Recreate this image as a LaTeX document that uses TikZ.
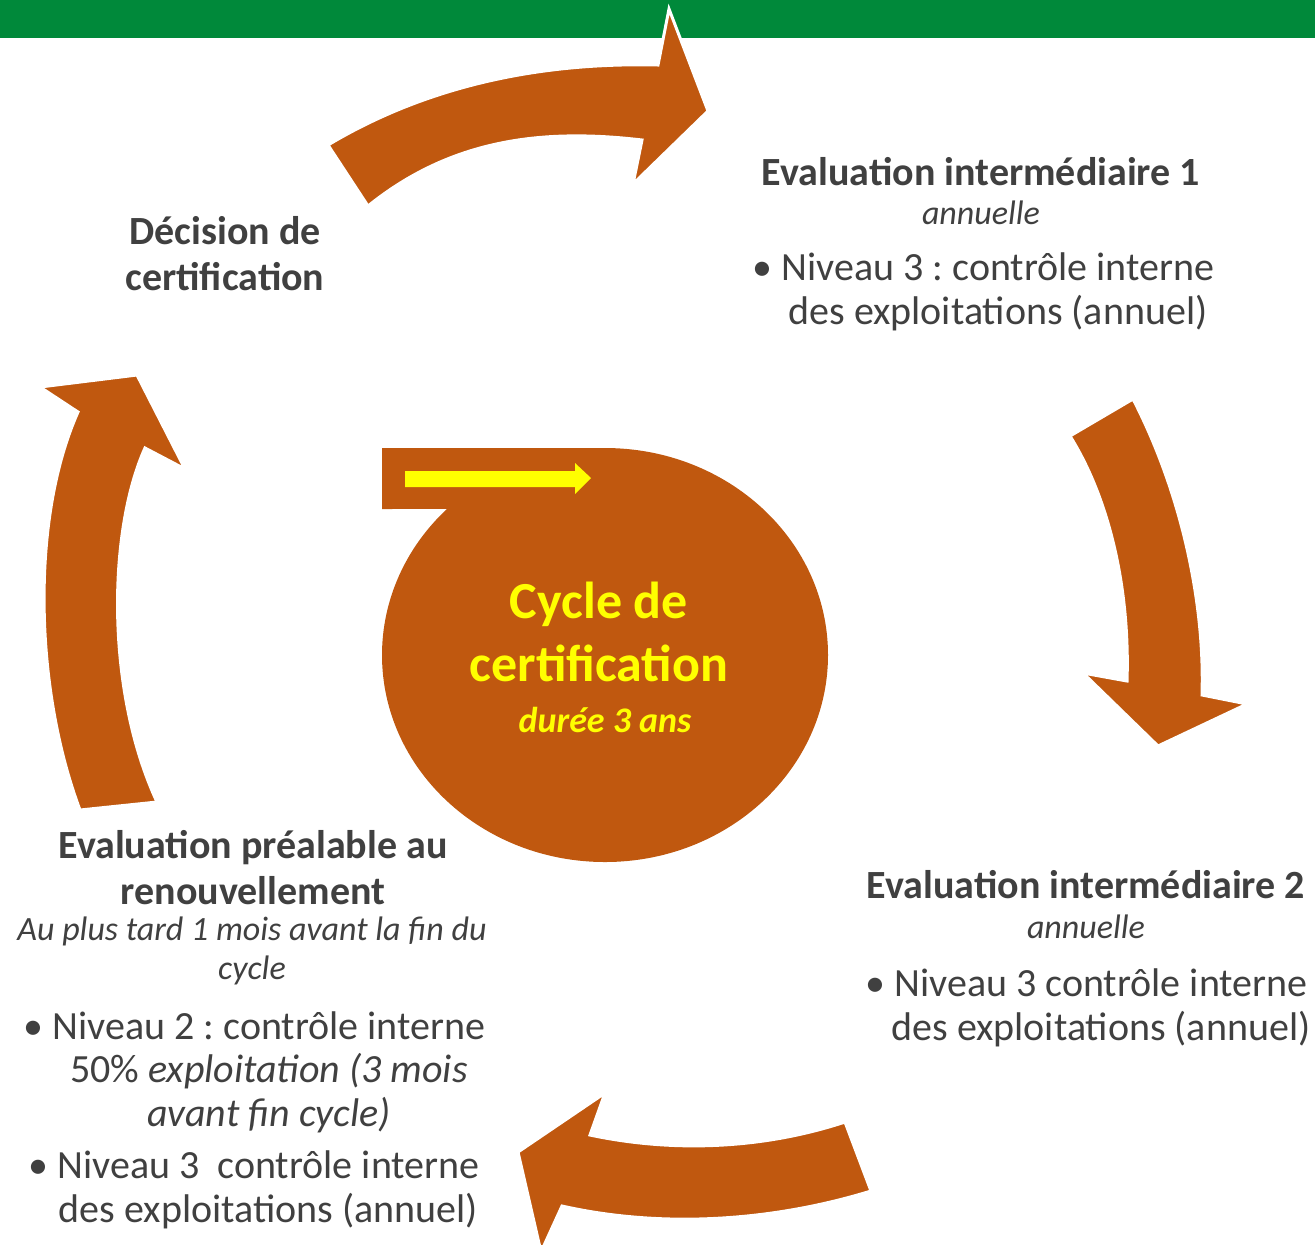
\documentclass[tikz,border=0pt]{standalone}
\usepackage{fontspec}
\setmainfont{Carlito}
\frenchspacing

\definecolor{rust}{HTML}{C0580F}
\definecolor{leaf}{HTML}{00893A}
\definecolor{ink}{HTML}{404040}
\definecolor{lemon}{HTML}{FFFF00}

\begin{document}
\begin{tikzpicture}[
    x=0.5pt, y=-0.5pt,
    every node/.style={inner sep=0pt, align=center, text=ink, anchor=base},
    head/.style={font=\fontsize{20}{23}\selectfont\bfseries},
    sub/.style={font=\fontsize{17}{19.5}\selectfont\itshape},
    item/.style={font=\fontsize{20}{21.75}\selectfont},
    centre/.style={text=lemon, font=\fontsize{26}{31.5}\selectfont\bfseries},
    bigarrow/.style={fill=rust, draw=white, line width=1.5pt, line join=miter}
]

    % Frame
    \useasboundingbox (0,0) rectangle (1315,1244);
    \clip (0,0) rectangle (1315,1244);
    \fill[white] (0,0) rectangle (1315,1244);
    \fill[leaf] (0,0) rectangle (1315,38);

    % Curved arrows
    \path[bigarrow] (328,145) .. controls (420,90) and (530,62) .. (658,65)
        -- (669,9) -- (708,111) -- (633,184) -- (642,140)
        .. controls (540,128) and (450,140) .. (368,206) -- cycle;
    \path[bigarrow] (1133,399) .. controls (1180,490) and (1205,600) .. (1202,695)
        -- (1247,704) -- (1158,746) -- (1083,673) -- (1127,681)
        .. controls (1130,590) and (1110,500) .. (1070,436) -- cycle;
    \path[bigarrow] (845,1122) .. controls (760,1150) and (670,1152) .. (590,1135)
        -- (605,1093) -- (518,1152) -- (541,1252) -- (562,1206)
        .. controls (660,1228) and (770,1222) .. (871,1191) -- cycle;
    \path[bigarrow] (80,810) .. controls (35,690) and (30,520) .. (78,412)
        -- (40,387) -- (137,375) -- (185,469) -- (145,448)
        .. controls (108,530) and (105,690) .. (157,802) -- cycle;

    % Centre (tape shape) with small yellow arrow
    \fill[rust] (382,448) -- (605,448)
        arc[start angle=-90, end angle=224.9, x radius=223, y radius=207]
        -- (382,509) -- cycle;
    \fill[lemon] (405,471) -- (575,471) -- (575,463) -- (591,478)
        -- (575,494) -- (575,487) -- (405,487) -- cycle;

    \node[centre] (cycle) at (599,681) {Cycle de\\certification};
    \node[centre, font=\fontsize{18}{20}\selectfont\bfseries\itshape] (duree) at (605,732) {durée 3 ans};

    % Steps (base = last line)
    \node[head] (decision) at (225,290) {Décision de\\certification};

    \node[head] (inter1) at (981,185) {Evaluation intermédiaire 1};
    \node[sub] (inter1freq) at (981,224) {annuelle};
    \node[item] (inter1lvl) at (983.5,324) {\textbullet\ Niveau 3 : contrôle interne\\\hphantom{\textbullet\ }des exploitations (annuel)};

    \node[head] (inter2) at (1086,898) {Evaluation intermédiaire 2};
    \node[sub] (inter2freq) at (1086,938) {annuelle};
    \node[item] (inter2lvl) at (1086.5,1040) {\textbullet\ Niveau 3 contrôle interne\\\hphantom{\textbullet\ }des exploitations (annuel)};

    \node[head] (renouv) at (253,904) {Evaluation préalable au\\renouvellement};
    \node[sub] (renouvdelai) at (252,979) {Au plus tard 1 mois avant la fin du\\cycle};
    \node[item] (renouvlvl2) at (254.5,1126) {\textbullet\ Niveau 2 : contrôle interne\\\hphantom{\textbullet\ }50\% \textit{exploitation (3 mois}\\\hphantom{\textbullet\ }\textit{avant fin cycle)}};
    \node[item] (renouvlvl3) at (254,1222) {\textbullet\ Niveau 3\ \ contrôle interne\\\hphantom{\textbullet\ }des exploitations (annuel)};

\end{tikzpicture}
\end{document}
